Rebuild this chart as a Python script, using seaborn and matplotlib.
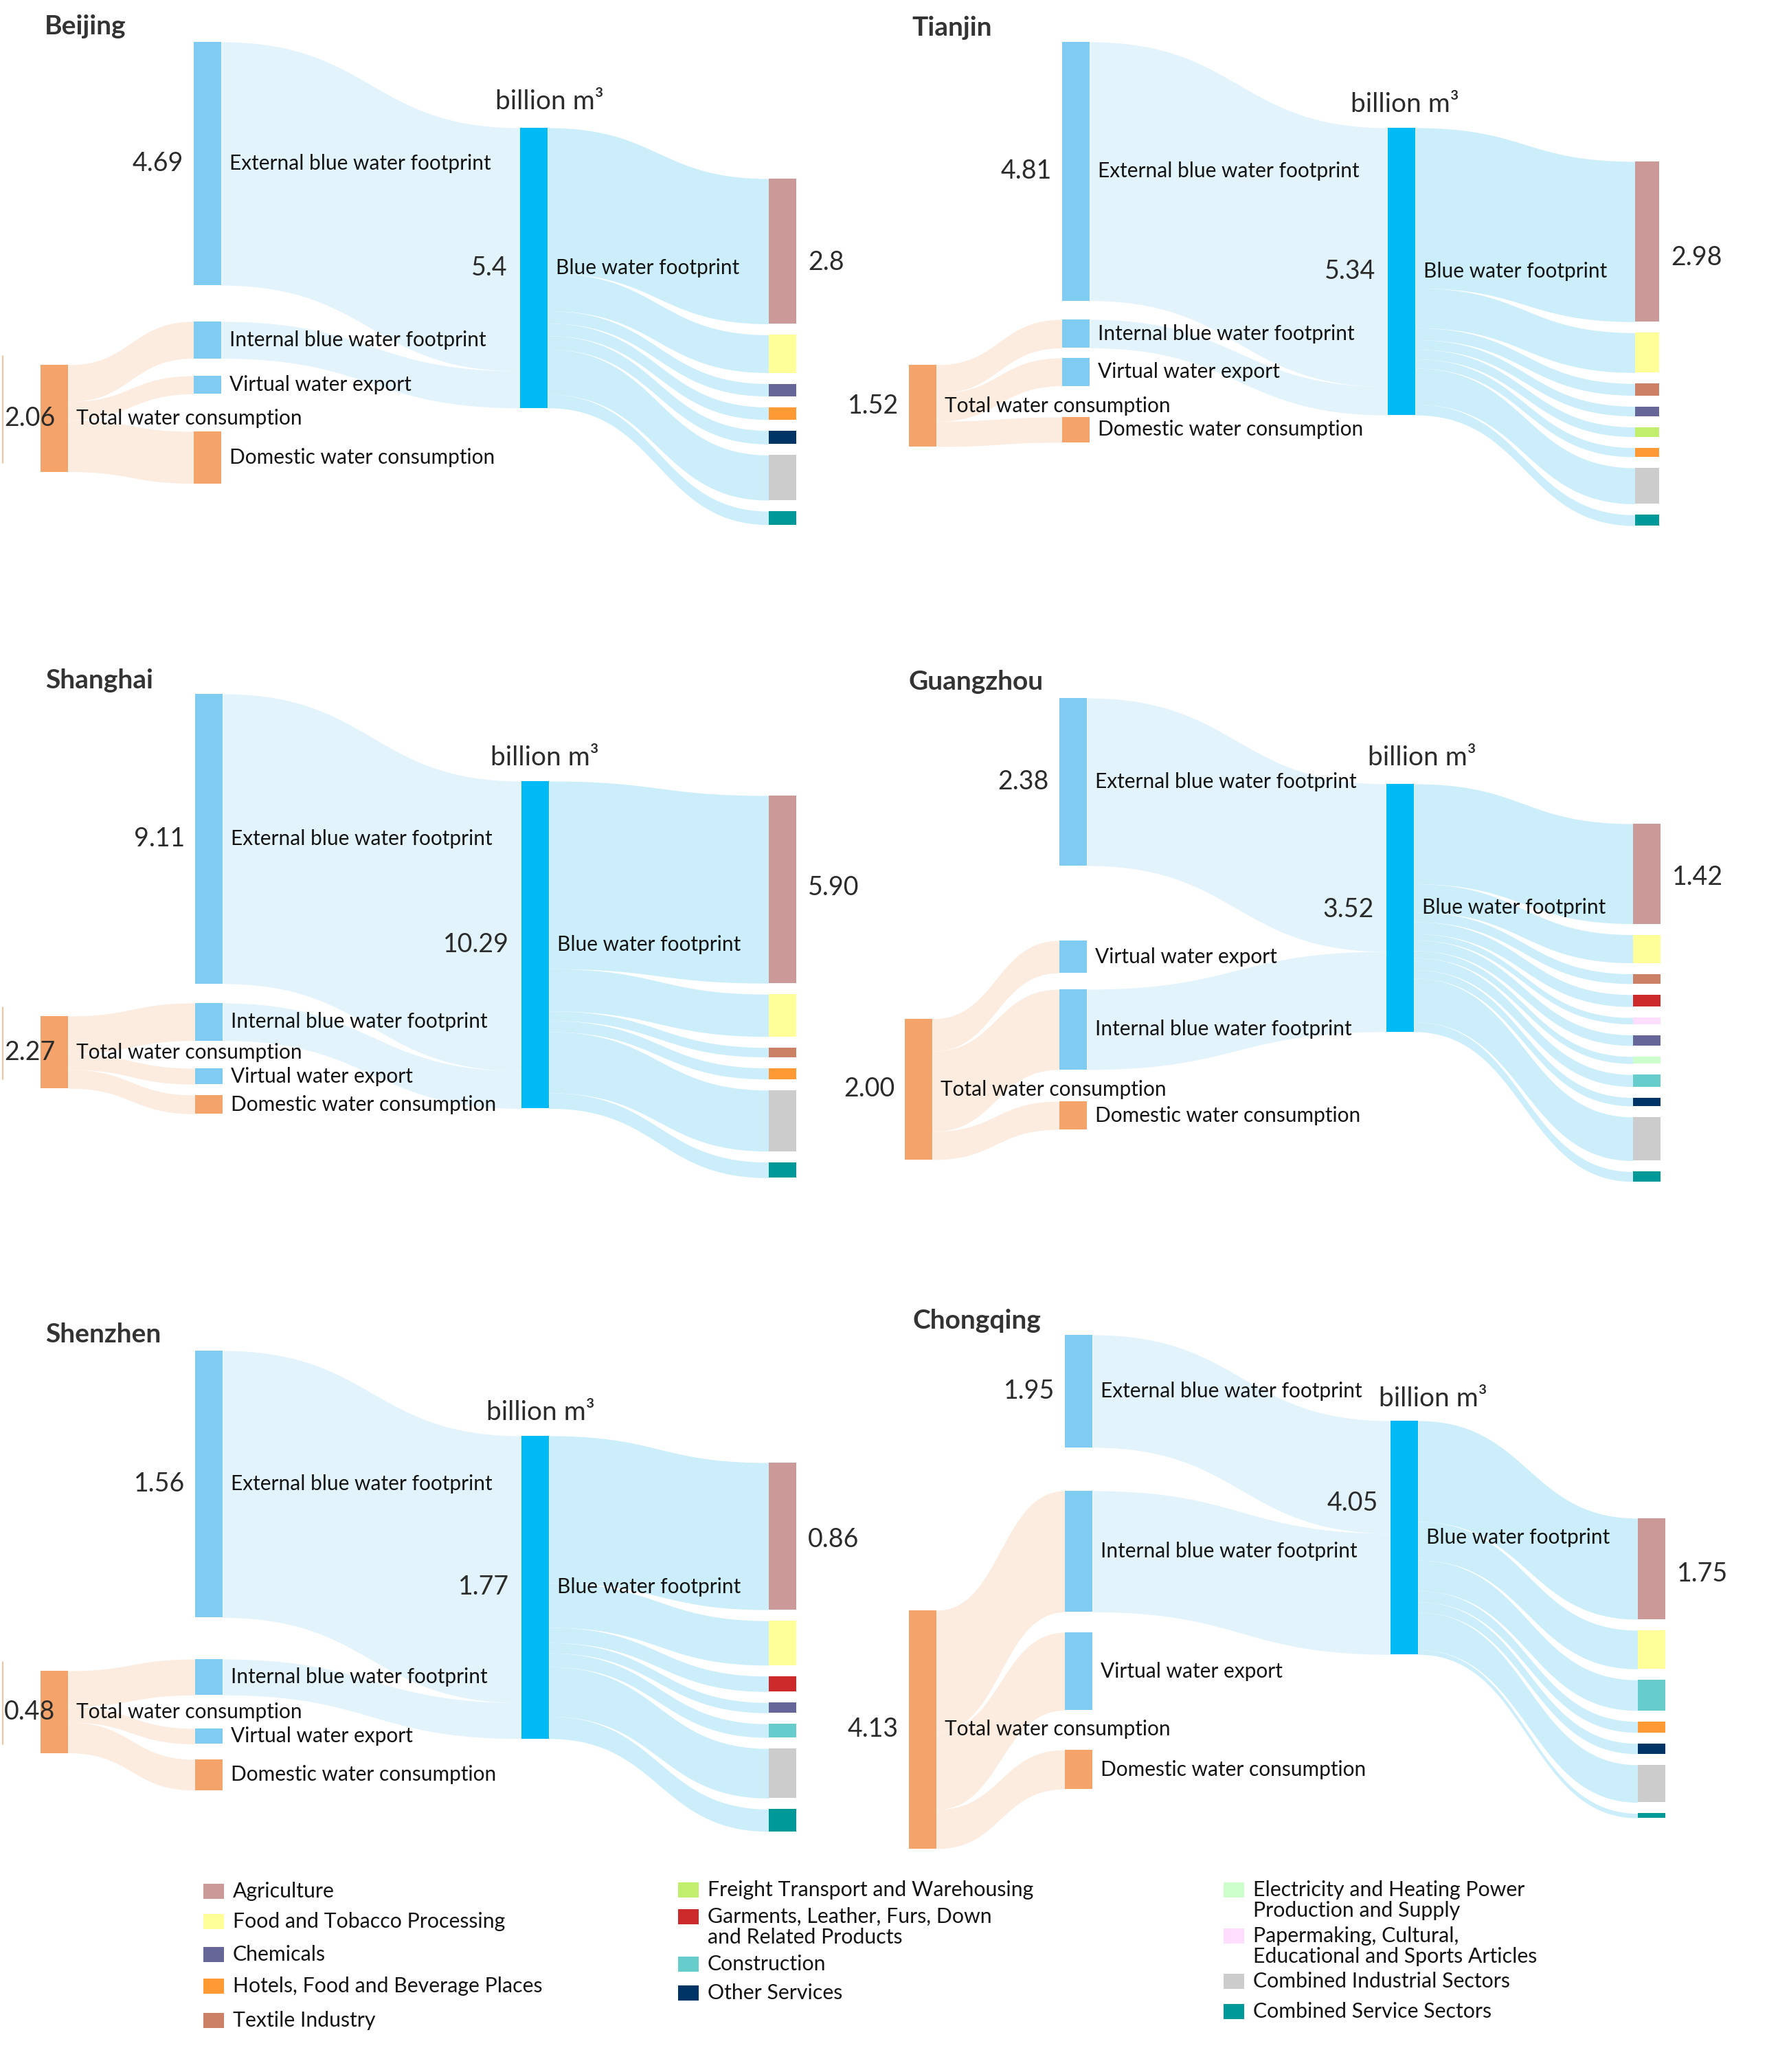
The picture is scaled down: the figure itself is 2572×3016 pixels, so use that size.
import numpy as np
import matplotlib
matplotlib.use("Agg")
import matplotlib.pyplot as plt
import seaborn as sns

sns.set_theme(style="white")
plt.rcParams["font.family"] = ["Lato", "DejaVu Sans"]

# ---------------- data (billion m3) ----------------
cities = ["Beijing", "Tianjin", "Shanghai", "Guangzhou", "Shenzhen", "Chongqing"]
external_bwf = [4.69, 4.81, 9.11, 2.38, 1.56, 1.95]
internal_bwf = [0.71, 0.53, 1.18, 1.14, 0.21, 2.10]
virtual_export = [0.35, 0.52, 0.50, 0.46, 0.09, 1.35]
domestic_use = [1.00, 0.47, 0.59, 0.40, 0.18, 0.68]
total_use = [2.06, 1.52, 2.27, 2.00, 0.48, 4.13]
blue_bwf = [5.40, 5.34, 10.29, 3.52, 1.77, 4.05]

external_lbl = ["4.69", "4.81", "9.11", "2.38", "1.56", "1.95"]
total_lbl = ["2.06", "1.52", "2.27", "2.00", "0.48", "4.13"]
blue_lbl = ["5.4", "5.34", "10.29", "3.52", "1.77", "4.05"]
agri_lbl = ["2.8", "2.98", "5.90", "1.42", "0.86", "1.75"]

sector_names = ["Agriculture", "Food and Tobacco Processing", "Chemicals",
                "Hotels, Food and Beverage Places", "Textile Industry",
                "Freight Transport and Warehousing",
                "Garments, Leather, Furs, Down\nand Related Products",
                "Construction", "Other Services",
                "Electricity and Heating Power\nProduction and Supply",
                "Papermaking, Cultural,\nEducational and Sports Articles",
                "Combined Industrial Sectors", "Combined Service Sectors"]
sector_colors = ["#CC9999", "#FFFF99", "#666699", "#FF9933", "#CC8066",
                 "#C2EE6E", "#CC2A2A", "#66CCCC", "#003366", "#CCFFCC",
                 "#FFDDFF", "#CCCCCC", "#009999"]
sec_color = dict(zip(sector_names, sector_colors))
AGR, FOOD, CHEM, HOTEL, TEXT, FREIGHT, GARM, CONS, OTHER, ELEC, PAPER, IND, SERV = sector_names

beijing_sectors = [AGR, FOOD, CHEM, HOTEL, OTHER, IND, SERV]
beijing_values = [2.80, 0.73, 0.24, 0.24, 0.26, 0.87, 0.26]
tianjin_sectors = [AGR, FOOD, TEXT, CHEM, FREIGHT, HOTEL, IND, SERV]
tianjin_values = [2.98, 0.74, 0.22, 0.18, 0.18, 0.17, 0.67, 0.20]
shanghai_sectors = [AGR, FOOD, TEXT, HOTEL, IND, SERV]
shanghai_values = [5.90, 1.33, 0.30, 0.35, 1.92, 0.49]
guangzhou_sectors = [AGR, FOOD, TEXT, GARM, PAPER, CHEM, ELEC, CONS, OTHER, IND, SERV]
guangzhou_values = [1.42, 0.40, 0.14, 0.17, 0.09, 0.15, 0.10, 0.17, 0.12, 0.62, 0.14]
shenzhen_sectors = [AGR, FOOD, GARM, CHEM, CONS, IND, SERV]
shenzhen_values = [0.86, 0.26, 0.09, 0.06, 0.08, 0.29, 0.13]
chongqing_sectors = [AGR, FOOD, CONS, HOTEL, OTHER, IND, SERV]
chongqing_values = [1.75, 0.67, 0.53, 0.19, 0.18, 0.65, 0.08]

city_sectors = [beijing_sectors, tianjin_sectors, shanghai_sectors,
                guangzhou_sectors, shenzhen_sectors, chongqing_sectors]
city_values = [beijing_values, tianjin_values, shanghai_values,
               guangzhou_values, shenzhen_values, chongqing_values]

# ---------------- layout (pixels of the 2572x3016 canvas) ----------------
# k = pixels per billion m3, cx = left edge of the 4 node columns
panels = [
    dict(k=75.5, cx=(59, 282, 757, 1119), w4=40, order=("ext", "int", "vir", "dom"),
         mid_tops=(61, 468, 547, 628), total_top=531, blue_top=186, sec_top=260,
         title=(65, 38), blue_dy=0, agri_dy=16, unit_dx=23, unit_dy=-38),
    dict(k=78.3, cx=(1323, 1546, 2020, 2380), w4=35, order=("ext", "int", "vir", "dom"),
         mid_tops=(61, 465, 521, 607), total_top=531, blue_top=186, sec_top=235,
         title=(1327, 41), blue_dy=0, agri_dy=23, unit_dx=5, unit_dy=-34),
    dict(k=46.3, cx=(59, 284, 759, 1119), w4=40, order=("ext", "int", "vir", "dom"),
         mid_tops=(1010, 1460, 1555, 1594), total_top=1479, blue_top=1137, sec_top=1158,
         title=(66, 990), blue_dy=0, agri_dy=-3, unit_dx=14, unit_dy=-34),
    dict(k=102.5, cx=(1317, 1542, 2018, 2377), w4=40, order=("ext", "vir", "int", "dom"),
         mid_tops=(1016, 1369, 1440, 1603), total_top=1483, blue_top=1141, sec_top=1199,
         title=(1323, 993), blue_dy=3, agri_dy=5, unit_dx=32, unit_dy=-38),
    dict(k=249.0, cx=(59, 284, 759, 1119), w4=40, order=("ext", "int", "vir", "dom"),
         mid_tops=(1966, 2415, 2516, 2561), total_top=2432, blue_top=2090, sec_top=2129,
         title=(66, 1943), blue_dy=0, agri_dy=5, unit_dx=8, unit_dy=-34),
    dict(k=84.0, cx=(1323, 1550, 2024, 2384), w4=40, order=("ext", "int", "vir", "dom"),
         mid_tops=(1943, 2170, 2376, 2547), total_top=2344, blue_top=2068, sec_top=2210,
         title=(1329, 1922), blue_dy=-50, agri_dy=7, unit_dx=42, unit_dy=-32),
]
NODE_W = 40
SEC_GAP = 16

mid_names = {"ext": "External blue water footprint", "int": "Internal blue water footprint",
             "vir": "Virtual water export", "dom": "Domestic water consumption"}
LIGHT_BLUE = "#7FCBF2"
DEEP_BLUE = "#00BAF5"
ORANGE = "#F4A46A"
PEACH = "#FCEBDF"
PALE_BLUE = "#E2F3FC"
LINK_BLUE = "#CCEEFB"
TXT = "#141414"
NUM = "#2b2b2b"

legend_cols = [
    [AGR, FOOD, CHEM, HOTEL, TEXT],
    [FREIGHT, GARM, CONS, OTHER],
    [ELEC, PAPER, IND, SERV],
]
legend_x = [296, 987, 1781]
legend_y = [[2753, 2797, 2845, 2891, 2941],
            [2751, 2790, 2859, 2901],
            [2751, 2818, 2884, 2928]]


def band(ax, x0, x1, a0, b0, a1, b1, color):
    t = np.linspace(0, 1, 160)
    x = x0 + (x1 - x0) * (1.5 * t * (1 - t) + t ** 3)
    s = 3 * t ** 2 - 2 * t ** 3
    ax.fill_between(x, a0 + (a1 - a0) * s, b0 + (b1 - b0) * s,
                    color=color, lw=0, zorder=1)


def node(ax, x, top, h, w, color):
    ax.bar(x, h, width=w, bottom=top, align="edge", color=color, lw=0, zorder=3)


fig = plt.figure(figsize=(25.72, 30.16), dpi=100)
ax = fig.add_axes([0, 0, 1, 1])
ax.set_xlim(0, 2572)
ax.set_ylim(3016, 0)
ax.axis("off")

for i, city in enumerate(cities):
    lay = panels[i]
    k = lay["k"]
    c1, c2, c3, c4 = lay["cx"]
    w = NODE_W
    vals = {"ext": external_bwf[i], "int": internal_bwf[i],
            "vir": virtual_export[i], "dom": domestic_use[i]}
    tops = dict(zip(lay["order"], lay["mid_tops"]))

    # total water consumption -> internal / virtual / domestic
    y = lay["total_top"]
    for key in lay["order"]:
        if key == "ext":
            continue
        h = vals[key] * k
        band(ax, c1 + w, c2, y, y + h, tops[key], tops[key] + h, PEACH)
        y += h

    # external / internal -> blue water footprint
    y = lay["blue_top"]
    for key in lay["order"]:
        if key not in ("ext", "int"):
            continue
        h = vals[key] * k
        band(ax, c2 + w, c3, tops[key], tops[key] + h, y, y + h, PALE_BLUE)
        y += h

    # blue water footprint -> sectors
    y = lay["blue_top"]
    ys = lay["sec_top"]
    agri_mid = None
    for name, v in zip(city_sectors[i], city_values[i]):
        h = v * k
        band(ax, c3 + w, c4, y, y + h, ys, ys + h, LINK_BLUE)
        node(ax, c4, ys, h, lay["w4"], sec_color[name])
        if name == AGR:
            agri_mid = ys + h / 2
        y += h
        ys += h + SEC_GAP

    # nodes
    th = total_use[i] * k
    node(ax, c1, lay["total_top"], th, w, ORANGE)
    for key in lay["order"]:
        node(ax, c2, tops[key], vals[key] * k, w, ORANGE if key == "dom" else LIGHT_BLUE)
    bh = blue_bwf[i] * k
    node(ax, c3, lay["blue_top"], bh, w, DEEP_BLUE)

    # labels
    fs = 21.5
    tmid = lay["total_top"] + th / 2
    ax.text(c1 + w + 12, tmid, "Total water consumption", fontsize=fs,
            color=TXT, va="center", ha="left", zorder=5)
    if c1 < 200:
        # panel edge: the value sits over the node
        ax.plot([4, 4], [lay["total_top"] - 13, lay["total_top"] + th - 13],
                color=ORANGE, lw=1.2, alpha=0.8, zorder=2)
        ax.text(6, tmid, total_lbl[i], fontsize=27,
                color=NUM, va="center", ha="left", zorder=5)
    else:
        ax.text(c1 - 15, tmid, total_lbl[i], fontsize=27,
                color=NUM, va="center", ha="right", zorder=5)
    for key in lay["order"]:
        ax.text(c2 + w + 12, tops[key] + vals[key] * k / 2, mid_names[key],
                fontsize=fs, color=TXT, va="center", ha="left", zorder=5)
    ax.text(c2 - 15, tops["ext"] + vals["ext"] * k / 2, external_lbl[i],
            fontsize=27, color=NUM, va="center", ha="right", zorder=5)

    bmid = lay["blue_top"] + bh / 2
    ax.text(c3 + w + 12, bmid, "Blue water footprint", fontsize=fs,
            color=TXT, va="center", ha="left", zorder=5)
    ax.text(c3 - 18, bmid + lay["blue_dy"], blue_lbl[i], fontsize=27,
            color=NUM, va="center", ha="right", zorder=5)
    ax.text(c3 + w / 2 + lay["unit_dx"], lay["blue_top"] + lay["unit_dy"],
            "billion m\u00b3", fontsize=28, color=NUM, va="center", ha="center", zorder=5)
    ax.text(c4 + lay["w4"] + 17, agri_mid + lay["agri_dy"], agri_lbl[i], fontsize=27,
            color=NUM, va="center", ha="left", zorder=5)

    ax.text(lay["title"][0], lay["title"][1], city, fontsize=28, fontweight="bold",
            color="#333333", va="center", ha="left", zorder=5)

# legend
for col, xs, ycol in zip(legend_cols, legend_x, legend_y):
    for name, yc in zip(col, ycol):
        ax.bar(xs, 22, width=30, bottom=yc - 11, align="edge",
               color=sec_color[name], lw=0, zorder=3)
        for j, line in enumerate(name.split("\n")):
            ax.text(xs + 43, yc + j * 30, line, fontsize=21.8, color=TXT,
                    va="center", ha="left")

fig.savefig("out.png", dpi=100)
